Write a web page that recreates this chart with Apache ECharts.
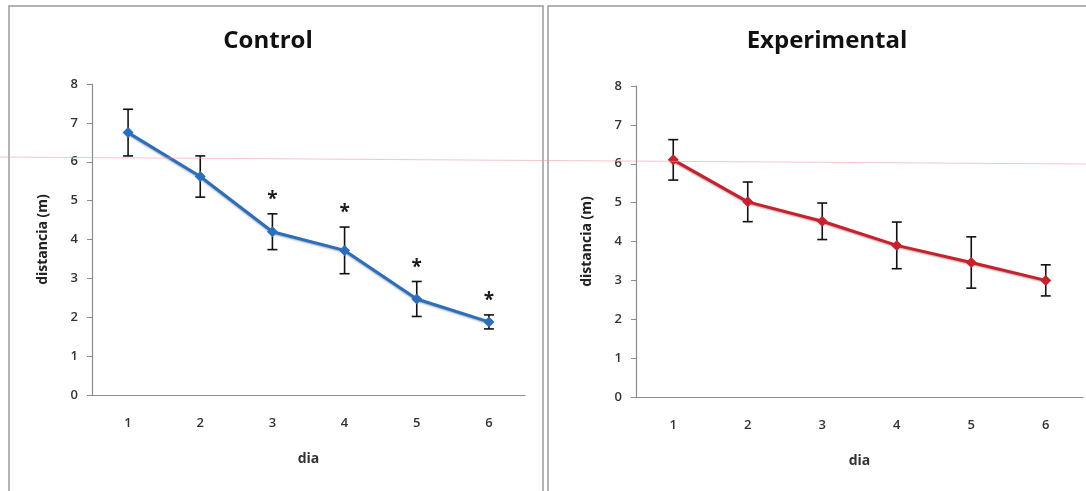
<!DOCTYPE html>
<html>
<head>
<meta charset="utf-8">
<script src="https://cdn.jsdelivr.net/npm/echarts@6/dist/echarts.min.js"></script>
<style>
  html, body { margin: 0; padding: 0; background: #fff; }
  #chart { width: 1086px; height: 491px; }
</style>
</head>
<body>
<div id="chart"></div>
<script>
// Days of the trial and distance (m) per group, mean and error
var days = ['1', '2', '3', '4', '5', '6'];
var yTicks = [0, 1, 2, 3, 4, 5, 6, 7, 8];

var controlMean = [6.75, 5.62, 4.2, 3.72, 2.47, 1.88];
var controlErr  = [0.6, 0.53, 0.46, 0.6, 0.45, 0.18];
var controlSig  = [0, 0, 1, 1, 1, 1];   // days marked with *

var expMean = [6.1, 5.02, 4.52, 3.9, 3.46, 3.0];
var expErr  = [0.52, 0.51, 0.47, 0.6, 0.66, 0.4];
var expSig  = [0, 0, 0, 0, 0, 0];

var FONT = '"Open Sans", "Noto Sans", sans-serif';
var chart = echarts.init(document.getElementById('chart'), null, { renderer: 'canvas' });

function errData(mean, err, sig) {
  return mean.map(function (m, i) { return [i, m - err[i], m + err[i], sig[i]]; });
}

function renderErr(params, api) {
  var i = api.value(0);
  var lo = api.coord([i, api.value(1)]);
  var hi = api.coord([i, api.value(2)]);
  var cap = 5;
  var style = { stroke: '#111', lineWidth: 1.6 };
  var children = [
    { type: 'line', shape: { x1: lo[0], y1: lo[1], x2: hi[0], y2: hi[1] }, style: style },
    { type: 'line', shape: { x1: lo[0] - cap, y1: lo[1], x2: lo[0] + cap, y2: lo[1] }, style: style },
    { type: 'line', shape: { x1: hi[0] - cap, y1: hi[1], x2: hi[0] + cap, y2: hi[1] }, style: style }
  ];
  if (api.value(3)) {
    children.push({
      type: 'text',
      style: {
        text: '*', x: hi[0], y: hi[1] - 14, align: 'center', verticalAlign: 'middle',
        font: 'bold 19px ' + FONT, fill: '#1a1a1a'
      }
    });
  }
  return { type: 'group', children: children };
}

function xAxis(gridIndex) {
  return {
    type: 'category', gridIndex: gridIndex, data: days, boundaryGap: true,
    name: 'dia', nameLocation: 'middle', nameGap: 57,
    nameTextStyle: { fontFamily: FONT, fontWeight: 'bold', fontSize: 14, color: '#333' },
    axisLine: { lineStyle: { color: '#8c8c8c', width: 1.2 } },
    axisTick: { show: false },
    axisLabel: { margin: 22, fontFamily: FONT, fontWeight: 600, fontSize: 13, color: '#333' },
    splitLine: { show: false }
  };
}

function yAxis(gridIndex) {
  return {
    type: 'value', gridIndex: gridIndex, min: yTicks[0], max: yTicks[yTicks.length - 1], interval: 1,
    name: 'distancia (m)', nameLocation: 'middle', nameGap: 42, nameRotate: 90,
    nameTextStyle: { fontFamily: FONT, fontWeight: 'bold', fontSize: 14, color: '#222' },
    axisLine: { show: true, lineStyle: { color: '#8c8c8c', width: 1.2 } },
    axisTick: { show: true, length: 5, lineStyle: { color: '#8c8c8c' } },
    axisLabel: { margin: 14, fontFamily: FONT, fontWeight: 600, fontSize: 13, color: '#333' },
    splitLine: { show: false }
  };
}

function lineSeries(idx, data, color) {
  return {
    type: 'line', xAxisIndex: idx, yAxisIndex: idx, data: data, z: 3,
    symbol: 'diamond', symbolSize: 11,
    itemStyle: { color: color },
    lineStyle: { color: color, width: 3, shadowColor: 'rgba(0,0,0,0.35)', shadowBlur: 2, shadowOffsetY: 1 },
    animation: false
  };
}

function errSeries(idx, mean, err, sig) {
  return {
    type: 'custom', xAxisIndex: idx, yAxisIndex: idx, z: 2,
    data: errData(mean, err, sig), renderItem: renderErr, animation: false
  };
}

chart.setOption({
  backgroundColor: '#fff',
  animation: false,
  title: [
    { text: 'Control', left: 263, top: 24, textAlign: 'center',
      textStyle: { fontFamily: FONT, fontWeight: 'bold', fontSize: 24, color: '#111' } },
    { text: 'Experimental', left: 822, top: 24, textAlign: 'center',
      textStyle: { fontFamily: FONT, fontWeight: 'bold', fontSize: 24, color: '#111' } }
  ],
  grid: [
    { left: 92, top: 84, width: 433, height: 311 },
    { left: 636, top: 86, width: 447, height: 311 }
  ],
  xAxis: [xAxis(0), xAxis(1)],
  yAxis: [yAxis(0), yAxis(1)],
  series: [
    errSeries(0, controlMean, controlErr, controlSig),
    lineSeries(0, controlMean, '#2a6fbe'),
    errSeries(1, expMean, expErr, expSig),
    lineSeries(1, expMean, '#c8202c')
  ],
  graphic: [
    { type: 'rect', shape: { x: 9, y: 6, width: 534, height: 500 },
      style: { fill: 'none', stroke: '#9a9a9a', lineWidth: 1.5 }, silent: true },
    { type: 'rect', shape: { x: 548, y: 6, width: 545, height: 500 },
      style: { fill: 'none', stroke: '#9a9a9a', lineWidth: 1.5 }, silent: true },
    { type: 'line', shape: { x1: 0, y1: 157, x2: 1086, y2: 164 },
      style: { stroke: 'rgba(235,150,160,0.55)', lineWidth: 1 }, silent: true, z: 10 }
  ]
});
</script>
</body>
</html>
